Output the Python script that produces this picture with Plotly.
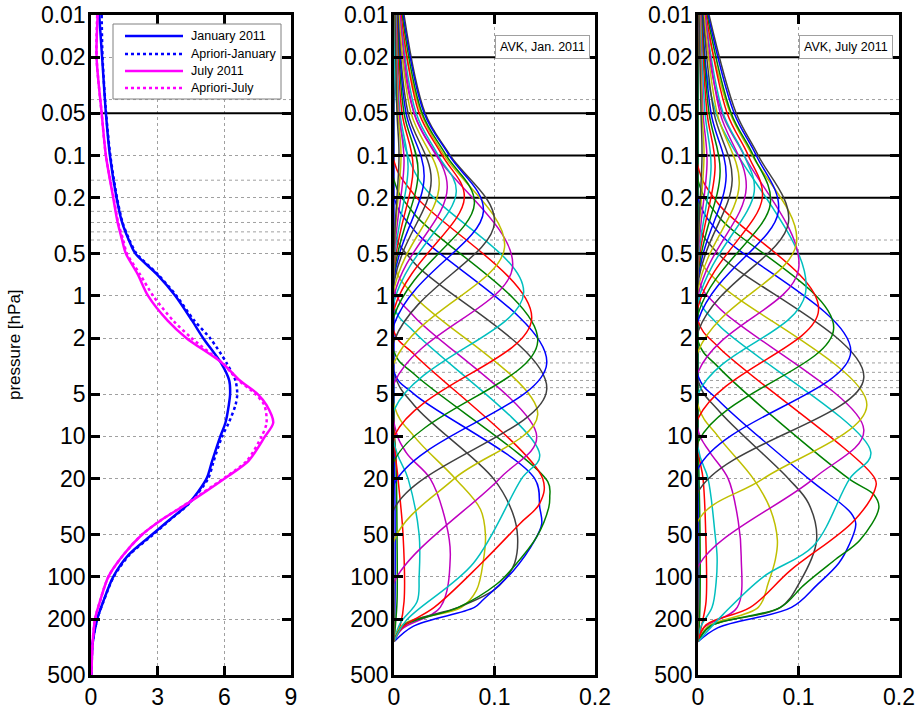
import plotly.graph_objects as go

FONT = "Liberation Sans, Arial, Helvetica, sans-serif"
W, H = 916, 709

# ---------------- tick definitions ----------------
p_ticks = [0.01, 0.02, 0.05, 0.1, 0.2, 0.5, 1, 2, 5, 10, 20, 50, 100, 200, 500]
p_tick_text = ["0.01", "0.02", "0.05", "0.1", "0.2", "0.5", "1", "2", "5", "10",
               "20", "50", "100", "200", "500"]
o3_ticks = [0, 3, 6, 9]
avk_ticks = [0, 0.1, 0.2]
avk_tick_text = ["0", "0.1", "0.2"]

# ---------------- ozone profiles (ppm) ----------------
prof_p = [0.01, 0.02, 0.05, 0.1, 0.2, 0.3, 0.4, 0.5, 0.7, 1, 1.5, 2, 3, 4, 5, 6, 8,
          10, 15, 20, 30, 40, 50, 70, 100, 150, 200, 300, 500]
jan_o3 = [0.37, 0.50, 0.67, 0.85, 1.15, 1.40, 1.70, 2.00, 2.96, 3.80, 4.55, 5.05,
          5.85, 6.22, 6.26, 6.20, 6.05, 5.82, 5.45, 5.20, 4.40, 3.47, 2.75, 1.68,
          1.00, 0.55, 0.28, 0.07, 0.02]
jan_apriori = [0.48, 0.52, 0.68, 0.87, 1.17, 1.42, 1.73, 2.05, 3.00, 3.85, 4.65,
               5.36, 6.10, 6.50, 6.58, 6.50, 6.20, 5.90, 5.52, 5.27, 4.42, 3.50,
               2.80, 1.72, 1.02, 0.56, 0.28, 0.07, 0.02]
jul_o3 = [0.30, 0.25, 0.48, 0.67, 1.00, 1.20, 1.40, 1.57, 2.10, 2.57, 3.45, 4.30,
          5.90, 6.70, 7.50, 7.90, 8.20, 7.83, 7.08, 6.00, 4.35, 3.10, 2.30, 1.45,
          0.78, 0.40, 0.18, 0.07, 0.02]
jul_apriori = [0.28, 0.25, 0.48, 0.67, 1.02, 1.22, 1.45, 1.62, 2.20, 2.80, 3.70,
               4.53, 5.90, 6.65, 7.40, 7.80, 7.90, 7.68, 7.00, 5.95, 4.32, 3.10,
               2.30, 1.45, 0.78, 0.40, 0.18, 0.07, 0.02]
legend_names = ["January 2011", "Apriori-January", "July 2011", "Apriori-July"]

# ---------------- averaging kernels, January ----------------
jan_avk_p = [
    [0.01, 8, 30, 150, 290],
    [0.01, 8, 15, 50, 150, 240, 290],
    [0.01, 10, 20, 50, 150, 225, 290],
    [0.01, 11, 20, 50, 100, 150, 215, 290],
    [0.01, 8, 13, 20, 42, 72, 165, 235, 290],
    [0.01, 6, 10, 20, 33, 50, 76, 125, 165, 218, 290],
    [0.01, 3.5, 6, 20, 35, 52, 80, 105, 125, 165, 220, 290],
    [0.01, 3.5, 5, 20, 32, 42, 55, 90, 145, 165, 225, 290],
    [0.01, 2.5, 3.6, 21, 27, 32, 52, 85, 113, 165, 225, 290],
    [0.01, 1.8, 2.6, 20, 30, 42, 80, 165, 230, 290],
    [0.01, 1.2, 1.8, 13.5, 20, 80, 205, 290],
    [0.01, 0.9, 1.4, 10, 20, 110, 290],
    [0.01, 0.6, 1.0, 7, 20, 55, 290],
    [0.01, 0.35, 0.58, 4.6, 33, 290],
    [0.01, 0.2, 0.34, 3.0, 22, 290],
    [0.01, 0.15, 0.26, 2.1, 15, 290],
    [0.01, 0.11, 0.19, 1.45, 10, 290],
    [0.01, 0.05, 0.15, 0.95, 6.5, 290],
    [0.01, 0.05, 0.1, 0.62, 4.2, 290],
    [0.01, 0.05, 0.1, 0.45, 3.0, 290],
    [0.01, 0.05, 0.1, 0.30, 2.1, 290],
    [0.01, 0.05, 0.1, 0.25, 1.6, 290],
    [0.01, 0.05, 0.1, 0.22, 1.4, 290],
    [0.01, 0.05, 0.1, 0.20, 1.25, 290],
    [0.01, 0.05, 0.1, 0.18, 1.1, 290],
    [0.01, 0.05, 0.17, 1.0, 290],
    [0.01, 0.05, 0.16, 0.9, 290],
    [0.01, 0.05, 0.15, 0.8, 290],
    [0.01, 0.05, 0.14, 0.75, 290],
    [0.01, 0.05, 0.13, 0.7, 290],
    [0.01, 0.05, 0.12, 0.65, 290],
    [0.01, 0.05, 0.12, 0.6, 290],
    [0.01, 0.05, 0.11, 0.55, 290],
    [0.01, 0.05, 0.10, 0.5, 290],
    [0.01, 0.05, 0.10, 0.5, 290],
]
jan_avk_v = [
    [0, 0, 0.001, 0.001, 0],
    [0, 0, 0.002, 0.003, 0.003, 0.001, 0],
    [0, 0, 0.004, 0.009, 0.010, 0.006, 0],
    [0, 0, 0.014, 0.025, 0.025, 0.023, 0.006, 0],
    [0, 0, 0.012, 0.036, 0.052, 0.056, 0.046, 0.008, 0],
    [0, 0, 0.020, 0.061, 0.086, 0.091, 0.089, 0.082, 0.067, 0.009, 0],
    [0, 0, 0.020, 0.099, 0.118, 0.123, 0.120, 0.110, 0.099, 0.064, 0.010, 0],
    [0, 0, 0.020, 0.140, 0.145, 0.147, 0.140, 0.119, 0.089, 0.080, 0.019, 0],
    [0, 0, 0.020, 0.153, 0.155, 0.154, 0.142, 0.119, 0.102, 0.064, 0.009, 0],
    [0, 0, 0.020, 0.148, 0.145, 0.125, 0.087, 0.040, 0.008, 0],
    [0, 0, 0.020, 0.145, 0.127, 0.079, 0.012, 0],
    [0, 0, 0.020, 0.142, 0.105, 0, 0],
    [0, 0, 0.020, 0.143, 0.060, 0, 0],
    [0, 0, 0.020, 0.152, 0, 0],
    [0, 0, 0.020, 0.152, 0, 0],
    [0, 0, 0.020, 0.143, 0, 0],
    [0, 0, 0.020, 0.137, 0, 0],
    [0.001, 0.004, 0.025, 0.129, 0, 0],
    [0.003, 0.020, 0.042, 0.118, 0, 0],
    [0.005, 0.027, 0.050, 0.110, 0, 0],
    [0.010, 0.031, 0.056, 0.100, 0, 0],
    [0.009, 0.030, 0.055, 0.089, 0, 0],
    [0.008, 0.028, 0.052, 0.080, 0, 0],
    [0.007, 0.025, 0.048, 0.070, 0, 0],
    [0.006, 0.022, 0.044, 0.062, 0, 0],
    [0.006, 0.020, 0.053, 0, 0],
    [0.005, 0.017, 0.045, 0, 0],
    [0.004, 0.014, 0.037, 0, 0],
    [0.0035, 0.012, 0.030, 0, 0],
    [0.003, 0.010, 0.024, 0, 0],
    [0.0025, 0.008, 0.019, 0, 0],
    [0.002, 0.006, 0.014, 0, 0],
    [0.0015, 0.005, 0.010, 0, 0],
    [0.001, 0.004, 0.007, 0, 0],
    [0.001, 0.003, 0.005, 0, 0],
]

# ---------------- averaging kernels, July ----------------
jul_avk_p = [
    [0.01, 10, 30, 150, 290],
    [0.01, 10, 20, 50, 150, 240, 290],
    [0.01, 12, 20, 60, 150, 215, 290],
    [0.01, 12, 20, 50, 72, 110, 165, 225, 290],
    [0.01, 9, 13, 20, 40, 72, 165, 230, 290],
    [0.01, 6, 10, 20, 33, 55, 75, 110, 165, 225, 290],
    [0.01, 4, 6.5, 20, 30, 55, 110, 165, 225, 290],
    [0.01, 3.7, 5.5, 20, 35, 42, 60, 80, 115, 165, 230, 290],
    [0.01, 2.1, 3.2, 20, 26, 32, 55, 75, 115, 165, 225, 290],
    [0.01, 1.5, 2.3, 20, 24, 40, 90, 165, 220, 290],
    [0.01, 1.0, 1.6, 13, 20, 60, 100, 185, 290],
    [0.01, 0.75, 1.2, 9, 20, 85, 290],
    [0.01, 0.5, 0.8, 6, 20, 40, 290],
    [0.01, 0.3, 0.5, 3.8, 25, 290],
    [0.01, 0.2, 0.35, 2.5, 17, 290],
    [0.01, 0.15, 0.27, 1.7, 11, 290],
    [0.01, 0.12, 0.22, 1.25, 7.5, 290],
    [0.01, 0.05, 0.95, 5.0, 290],
    [0.01, 0.05, 0.1, 0.65, 3.5, 290],
    [0.01, 0.05, 0.1, 0.42, 2.5, 290],
    [0.01, 0.05, 0.1, 0.30, 1.8, 290],
    [0.01, 0.05, 0.1, 0.25, 1.5, 290],
    [0.01, 0.05, 0.1, 0.22, 1.35, 290],
    [0.01, 0.05, 0.1, 0.20, 1.2, 290],
    [0.01, 0.05, 0.1, 0.18, 1.1, 290],
    [0.01, 0.05, 0.17, 1.0, 290],
    [0.01, 0.05, 0.16, 0.9, 290],
    [0.01, 0.05, 0.15, 0.8, 290],
    [0.01, 0.05, 0.14, 0.75, 290],
    [0.01, 0.05, 0.13, 0.7, 290],
    [0.01, 0.05, 0.12, 0.65, 290],
    [0.01, 0.05, 0.12, 0.6, 290],
    [0.01, 0.05, 0.11, 0.55, 290],
    [0.01, 0.05, 0.10, 0.5, 290],
    [0.01, 0.05, 0.10, 0.5, 290],
]
jul_avk_v = [
    [0, 0, 0.0008, 0.0008, 0],
    [0, 0, 0.001, 0.002, 0.002, 0.001, 0],
    [0, 0, 0.005, 0.008, 0.008, 0.004, 0],
    [0, 0, 0.010, 0.017, 0.019, 0.018, 0.014, 0.003, 0],
    [0, 0, 0.012, 0.030, 0.040, 0.043, 0.039, 0.006, 0],
    [0, 0, 0.020, 0.055, 0.072, 0.079, 0.077, 0.070, 0.060, 0.010, 0],
    [0, 0, 0.020, 0.090, 0.110, 0.118, 0.101, 0.082, 0.012, 0],
    [0, 0, 0.020, 0.110, 0.152, 0.157, 0.150, 0.140, 0.118, 0.093, 0.020, 0],
    [0, 0, 0.020, 0.150, 0.175, 0.180, 0.161, 0.137, 0.105, 0.082, 0.012, 0],
    [0, 0, 0.020, 0.176, 0.176, 0.155, 0.092, 0.052, 0.008, 0],
    [0, 0, 0.020, 0.172, 0.151, 0.115, 0.065, 0.025, 0],
    [0, 0, 0.020, 0.165, 0.115, 0, 0],
    [0, 0, 0.020, 0.168, 0.065, 0, 0],
    [0, 0, 0.020, 0.165, 0, 0],
    [0, 0, 0.020, 0.152, 0, 0],
    [0, 0, 0.020, 0.135, 0, 0],
    [0, 0, 0.020, 0.120, 0, 0],
    [0.002, 0.018, 0.107, 0, 0],
    [0.004, 0.024, 0.046, 0.100, 0, 0],
    [0.006, 0.032, 0.054, 0.098, 0, 0],
    [0.011, 0.038, 0.060, 0.090, 0, 0],
    [0.010, 0.036, 0.058, 0.080, 0, 0],
    [0.009, 0.033, 0.055, 0.072, 0, 0],
    [0.008, 0.029, 0.050, 0.064, 0, 0],
    [0.007, 0.025, 0.046, 0.056, 0, 0],
    [0.007, 0.022, 0.048, 0, 0],
    [0.006, 0.019, 0.041, 0, 0],
    [0.005, 0.016, 0.034, 0, 0],
    [0.004, 0.013, 0.028, 0, 0],
    [0.0035, 0.011, 0.022, 0, 0],
    [0.003, 0.009, 0.017, 0, 0],
    [0.0025, 0.007, 0.013, 0, 0],
    [0.002, 0.005, 0.009, 0, 0],
    [0.0015, 0.004, 0.006, 0, 0],
    [0.001, 0.003, 0.004, 0, 0],
]

# extra reference levels drawn across the panels
o3_fine_levels = [0.04, 0.15, 0.25, 0.3, 0.35, 0.4]
o3_bold_levels = [0.05]
avk_fine_levels = [0.04, 0.4, 1.5, 2.5, 3, 3.5, 4, 4.5]
avk_bold_levels = [0.02, 0.05, 0.1, 0.2, 0.5]

avk_colors = ["#0000FF", "#008000", "#FF0000", "#00BFBF", "#BF00BF", "#BFBF00", "#404040"]
prof_colors = ["#0000FF", "#0000FF", "#FF00FF", "#FF00FF"]
prof_dashes = ["solid", "dot", "solid", "dot"]

fig = go.Figure()


def add_levels(xr, levels, xa, ya, color, width, dash):
    for lv in levels:
        fig.add_trace(go.Scatter(x=xr, y=[lv, lv], mode="lines", xaxis=xa, yaxis=ya,
                                 line=dict(color=color, width=width, dash=dash),
                                 showlegend=False, hoverinfo="skip"))


add_levels([0, 9], o3_fine_levels, "x", "y", "#a0a0a0", 1, "dot")
add_levels([0, 9], o3_bold_levels, "x", "y", "black", 2, "solid")
for xa, ya in (("x2", "y2"), ("x3", "y3")):
    add_levels([0, 0.2], avk_fine_levels, xa, ya, "#a0a0a0", 1, "dot")
    add_levels([0, 0.2], avk_bold_levels, xa, ya, "black", 2, "solid")

# panel 1 profiles
for vals, name, col, dash in zip((jan_o3, jan_apriori, jul_o3, jul_apriori),
                                 legend_names, prof_colors, prof_dashes):
    fig.add_trace(go.Scatter(x=vals, y=prof_p, mode="lines", name=name,
                             line=dict(color=col, width=2.5, dash=dash, shape="spline",
                                       smoothing=0.8),
                             xaxis="x", yaxis="y", showlegend=False))

# AVK panels
for ps_list, vs_list, xa, ya in ((jan_avk_p, jan_avk_v, "x2", "y2"),
                                 (jul_avk_p, jul_avk_v, "x3", "y3")):
    for i, (ps, vs) in enumerate(zip(ps_list, vs_list)):
        fig.add_trace(go.Scatter(x=vs, y=ps, mode="lines", xaxis=xa, yaxis=ya,
                                 line=dict(color=avk_colors[i % 7], width=1.5,
                                           shape="spline", smoothing=1.0),
                                 showlegend=False, hoverinfo="skip"))


def px_dom_x(a, b):
    return [a / W, b / W]


def fx(px):
    return px / W


def fy(py):
    return 1 - py / H


ydom = [fy(675), fy(15)]

common_axis = dict(showline=True, linecolor="black", linewidth=2.5, mirror="ticks",
                   ticks="inside", ticklen=9, tickwidth=3, tickcolor="black",
                   showgrid=True, gridcolor="#a0a0a0", griddash="dot", gridwidth=1,
                   zeroline=False, automargin=False,
                   tickfont=dict(family=FONT, size=23, color="black"))

yaxis_common = dict(common_axis, type="log", range=[2.69897, -2], tickvals=p_ticks,
                    ticktext=p_tick_text, ticklabelstandoff=-2)

# hand-drawn legend box (panel 1)
shapes = [dict(type="rect", xref="paper", yref="paper", x0=fx(113), x1=fx(281),
               y0=fy(99), y1=fy(24), line=dict(color="#808080", width=1),
               fillcolor="white", layer="above")]
annotations = []
legend_rows = [36, 54, 71, 88]
for name, col, dash, row in zip(legend_names, prof_colors, prof_dashes, legend_rows):
    shapes.append(dict(type="line", xref="paper", yref="paper", x0=fx(125), x1=fx(183),
                       y0=fy(row), y1=fy(row), line=dict(color=col, width=2.5, dash=dash),
                       layer="above"))
    annotations.append(dict(text=name, x=fx(189), y=fy(row), xref="paper", yref="paper",
                            xanchor="left", yanchor="middle", showarrow=False,
                            font=dict(family=FONT, size=12.5, color="black")))

annotations += [
    dict(text="pressure [hPa]", x=fx(14), y=fy(345), xref="paper", yref="paper",
         xanchor="center", yanchor="middle",
         showarrow=False, textangle=-90, font=dict(family=FONT, size=17, color="black")),
    dict(text="AVK, Jan. 2011", x=fx(542), y=fy(47), xref="paper", yref="paper",
         xanchor="center", yanchor="middle",
         showarrow=False, bgcolor="white", bordercolor="#a0a0a0", borderwidth=1,
         borderpad=4, font=dict(family=FONT, size=12.5, color="black")),
    dict(text="AVK, July 2011", x=fx(846), y=fy(47), xref="paper", yref="paper",
         xanchor="center", yanchor="middle",
         showarrow=False, bgcolor="white", bordercolor="#a0a0a0", borderwidth=1,
         borderpad=4, font=dict(family=FONT, size=12.5, color="black")),
]

layout = dict(
    width=W, height=H, paper_bgcolor="white", plot_bgcolor="white",
    margin=dict(l=0, r=0, t=0, b=0, pad=0),
    font=dict(family=FONT, color="black"),
    xaxis=dict(common_axis, domain=px_dom_x(91, 291), range=[0, 9], tickvals=o3_ticks,
               anchor="y", ticklabelstandoff=0),
    yaxis=dict(yaxis_common, domain=ydom, anchor="x"),
    xaxis2=dict(common_axis, domain=px_dom_x(394, 595), range=[0, 0.2], tickvals=avk_ticks,
                ticktext=avk_tick_text, anchor="y2", ticklabelstandoff=0),
    yaxis2=dict(yaxis_common, domain=ydom, anchor="x2"),
    xaxis3=dict(common_axis, domain=px_dom_x(698, 899), range=[0, 0.2], tickvals=avk_ticks,
                ticktext=avk_tick_text, anchor="y3", ticklabelstandoff=0),
    yaxis3=dict(yaxis_common, domain=ydom, anchor="x3"),
    showlegend=False,
    shapes=shapes,
    annotations=annotations,
)
fig.update_layout(**layout)
fig.write_html("out.html", config={"displayModeBar": False},
               post_script="document.body.style.margin='0px';")
